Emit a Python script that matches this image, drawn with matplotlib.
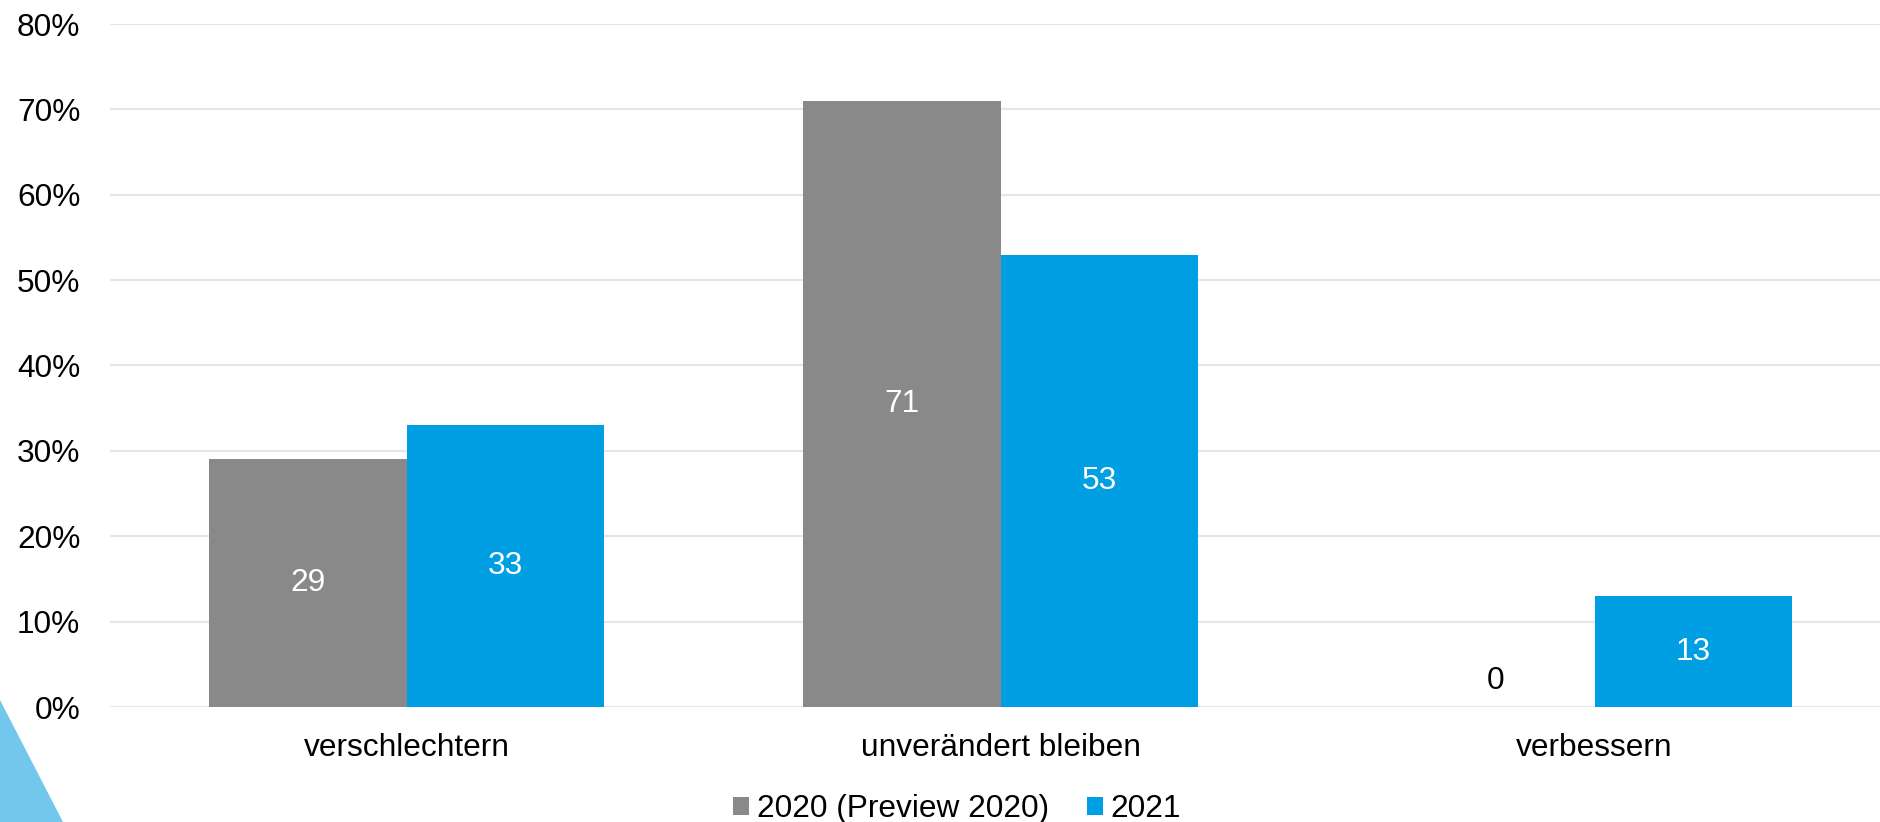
import numpy as np
import matplotlib.pyplot as plt
from matplotlib.patches import Polygon

plt.rcParams['font.family'] = ['Liberation Sans', 'DejaVu Sans']

# data
categories = ["verschlechtern", "unverändert bleiben", "verbessern"]
series_names = ["2020 (Preview 2020)", "2021"]
values_2020 = [29, 71, 0]
values_2021 = [33, 53, 13]
yticks = [0, 10, 20, 30, 40, 50, 60, 70, 80]

colors = ["#898989", "#009FE3"]
fs = 22.8


def main():
    fig = plt.figure(figsize=(18.8, 8.22), dpi=100)
    ax = fig.add_axes([109.5 / 1880, 115 / 822, 1782 / 1880, (707 - 24) / 822])

    # dekorativni trojuhelnik vlevo dole
    tri = Polygon([(0, 0), (0, 122 / 822), (63 / 1880, 0)], closed=True,
                  transform=fig.transFigure, facecolor="#73C7EC", edgecolor="none", zorder=0)
    fig.patches.append(tri)

    x = np.arange(len(categories))
    w = 0.333
    for k, vals in enumerate([values_2020, values_2021]):
        pos = x + (k - 0.5) * w
        ax.bar(pos, vals, width=w, color=colors[k], label=series_names[k], zorder=2)
        for p, v in zip(pos, vals):
            if v == 0:
                ax.annotate(f"{v}", (p, 0), xytext=(0, 8), textcoords="offset points",
                            ha="center", va="bottom", fontsize=fs, color="black")
            else:
                ax.text(p, v / 2, f"{v}", ha="center", va="center", fontsize=fs, color="white")

    ax.set_xlim(-0.5, 2.5)
    ax.set_ylim(0, 80)
    ax.set_yticks(yticks)
    ax.set_yticklabels([f"{t}%" for t in yticks], fontsize=fs)
    ax.set_xticks(x)
    ax.set_xticklabels(categories, fontsize=fs)
    ax.tick_params(axis="y", length=0, pad=21)
    ax.tick_params(axis="x", length=0, pad=19)
    ax.grid(axis="y", color="#E6E6E6", linewidth=1.5, zorder=0)
    ax.set_axisbelow(True)
    for s in ax.spines.values():
        s.set_visible(False)

    fig.legend(loc="center", bbox_to_anchor=(0.509, 0.016), ncol=2, frameon=False,
               fontsize=fs, handlelength=0.5, handleheight=0.5, handletextpad=0.25,
               columnspacing=1.2, borderaxespad=0, borderpad=0)

    fig.savefig("out.png", dpi=100)


if __name__ == "__main__":
    main()
